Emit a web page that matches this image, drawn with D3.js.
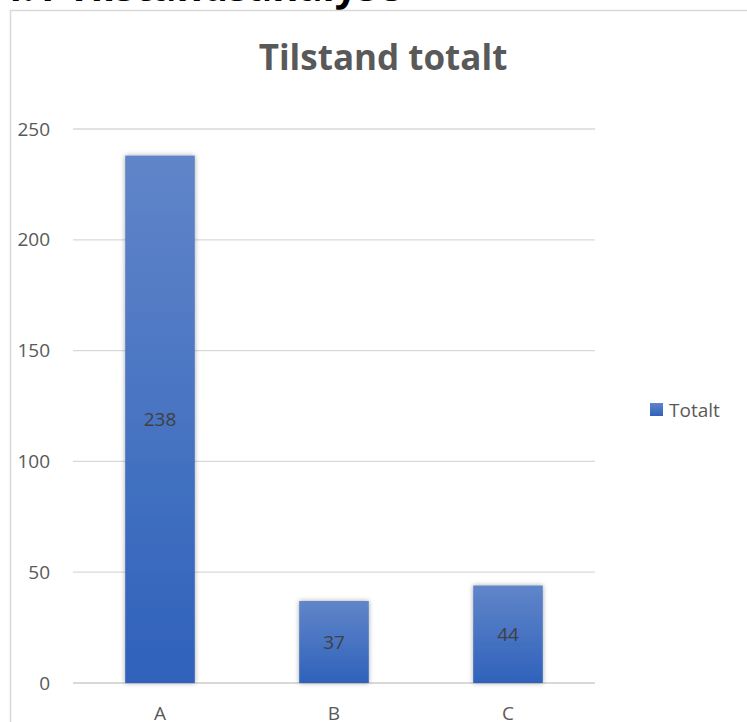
<!DOCTYPE html>
<html>
<head>
<meta charset="utf-8">
<script src="https://cdn.jsdelivr.net/npm/d3@7"></script>
<style>
  body { margin: 0; background: #fff; }
  svg { font-family: "Open Sans", "Noto Sans", sans-serif; }
</style>
</head>
<body>
<svg width="747" height="722"></svg>
<script>
const categories = ['A', 'B', 'C'];
const values = [238, 37, 44];
const yTicks = [0, 50, 100, 150, 200, 250];
const seriesName = 'Totalt';

const svg = d3.select('svg');

const margin = {left: 73, right: 152, top: 129, bottom: 39};
const width = 747 - margin.left - margin.right;
const height = 722 - margin.top - margin.bottom;

// gradient + shadow like the spreadsheet style
const defs = svg.append('defs');
const grad = defs.append('linearGradient')
    .attr('id', 'barGrad')
    .attr('x1', 0).attr('y1', 0).attr('x2', 0).attr('y2', 1);
grad.append('stop').attr('offset', '0%').attr('stop-color', '#6085c9');
grad.append('stop').attr('offset', '100%').attr('stop-color', '#2f62bb');

const shadow = defs.append('filter')
    .attr('id', 'shadow')
    .attr('x', '-30%').attr('y', '-10%').attr('width', '160%').attr('height', '120%');
shadow.append('feDropShadow')
    .attr('dx', 0).attr('dy', 0)
    .attr('stdDeviation', 2.5)
    .attr('flood-color', '#000')
    .attr('flood-opacity', 0.35);

// clipped heading from the page above the chart
svg.append('text')
    .attr('x', 0)
    .attr('y', 1)
    .attr('font-size', 40)
    .attr('font-weight', 'bold')
    .attr('fill', '#000')
    .text('4.1 Tilstandsanalyse');

// chart frame
svg.append('rect')
    .attr('x', 10.5).attr('y', 10.5)
    .attr('width', 760).attr('height', 730)
    .attr('fill', '#fff')
    .attr('stroke', '#d9d9d9')
    .attr('stroke-width', 1.5);

svg.append('text')
    .attr('x', 383)
    .attr('y', 70)
    .attr('text-anchor', 'middle')
    .attr('font-size', 35)
    .attr('font-weight', 'bold')
    .attr('fill', '#595959')
    .text('Tilstand totalt');

const g = svg.append('g')
    .attr('transform', `translate(${margin.left}, ${margin.top})`);

const x = d3.scaleBand()
    .domain(categories)
    .range([0, width])
    .paddingInner(0.6)
    .paddingOuter(0.3);

const y = d3.scaleLinear()
    .domain([0, 250])
    .range([height, 0]);

// gridlines
g.selectAll('.grid').data(yTicks)
  .enter().append('line')
    .attr('class', 'grid')
    .attr('x1', 0).attr('x2', width)
    .attr('y1', d => y(d)).attr('y2', d => y(d))
    .attr('stroke', '#d9d9d9')
    .attr('stroke-width', d => d === 0 ? 2 : 1.3);

// y labels
g.selectAll('.ytick').data(yTicks)
  .enter().append('text')
    .attr('class', 'ytick')
    .attr('x', -23)
    .attr('y', d => y(d))
    .attr('dy', '0.35em')
    .attr('text-anchor', 'end')
    .attr('font-size', 19)
    .attr('fill', '#595959')
    .text(d => d);

// bars
g.selectAll('.bar').data(values)
  .enter().append('rect')
    .attr('class', 'bar')
    .attr('x', (d, i) => x(categories[i]))
    .attr('y', d => y(d))
    .attr('width', x.bandwidth())
    .attr('height', d => height - y(d))
    .attr('fill', 'url(#barGrad)')
    .attr('filter', 'url(#shadow)');

// value labels
g.selectAll('.val').data(values)
  .enter().append('text')
    .attr('class', 'val')
    .attr('x', (d, i) => x(categories[i]) + x.bandwidth() / 2)
    .attr('y', d => (y(d) + height) / 2)
    .attr('dy', '0.35em')
    .attr('text-anchor', 'middle')
    .attr('font-size', 19)
    .attr('fill', '#404040')
    .text(d => d);

// x labels
g.selectAll('.xtick').data(categories)
  .enter().append('text')
    .attr('class', 'xtick')
    .attr('x', d => x(d) + x.bandwidth() / 2)
    .attr('y', height + 37)
    .attr('text-anchor', 'middle')
    .attr('font-size', 19)
    .attr('fill', '#595959')
    .text(d => d);

// legend
const legend = svg.append('g')
    .attr('transform', 'translate(650, 403)');
legend.append('rect')
    .attr('width', 13).attr('height', 13)
    .attr('fill', 'url(#barGrad)');
legend.append('text')
    .attr('x', 19)
    .attr('y', 7)
    .attr('dy', '0.35em')
    .attr('font-size', 19)
    .attr('fill', '#595959')
    .text(seriesName);
</script>
</body>
</html>
